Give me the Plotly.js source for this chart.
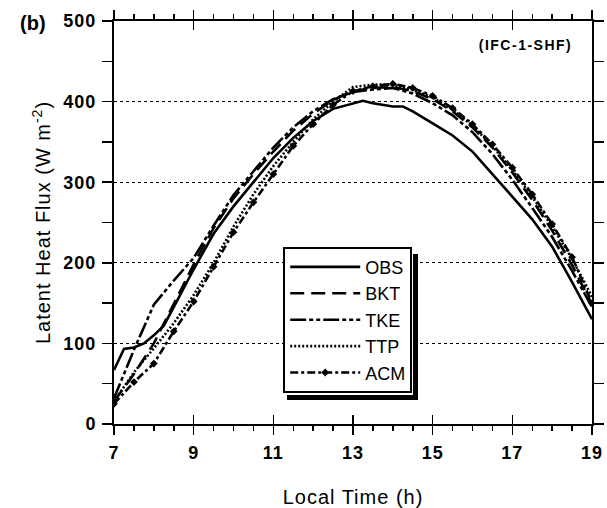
<!DOCTYPE html>
<html>
<head>
<meta charset="utf-8">
<script src="https://cdn.plot.ly/plotly-3.0.1.min.js"></script>
<style>body{margin:0;background:#fff;} #chart{width:607px;height:508px;}</style>
</head>
<body>
<div id="chart"></div>
<script>
// Local time (h)
const obsTime = [7, 7.25, 7.5, 7.75, 8, 8.25, 8.5, 9, 9.5, 10, 10.5, 11, 11.5, 12, 12.5, 13, 13.25, 13.5, 14, 14.25, 14.5, 15, 15.5, 16, 16.5, 17, 17.5, 18, 18.5, 19];
const obs =     [67, 93, 95, 100, 110, 122, 145, 192, 236, 270, 300, 330, 355, 376, 391, 398, 401, 398, 394, 394, 388, 373, 358, 338, 310, 282, 254, 220, 176, 130];

const modelTime = [7, 7.5, 8, 8.5, 9, 9.5, 10, 10.5, 11, 11.5, 12, 12.5, 13, 13.5, 14, 14.5, 15, 15.5, 16, 16.5, 17, 17.5, 18, 18.5, 19];
const bkt = [28, 62, 100, 150, 198, 243, 280, 310, 338, 364, 385, 402, 413, 417, 418, 413, 403, 388, 368, 343, 312, 278, 240, 197, 148];
const tke = [32, 92, 148, 178, 206, 246, 284, 314, 343, 368, 388, 403, 412, 415, 417, 410, 398, 383, 362, 335, 303, 268, 232, 190, 145];
const ttp = [28, 64, 94, 125, 160, 200, 245, 285, 320, 350, 378, 400, 418, 421, 421, 415, 405, 390, 370, 345, 315, 282, 245, 205, 158];
const acm = [25, 52, 75, 115, 152, 195, 238, 275, 310, 345, 372, 396, 413, 419, 422, 417, 407, 392, 372, 347, 318, 285, 248, 207, 150];

const seriesNames = ['OBS', 'BKT', 'TKE', 'TTP', 'ACM'];
const xTicks = [7, 9, 11, 13, 15, 17, 19];
const yTicks = [0, 100, 200, 300, 400, 500];

const W = 2.6;
const traces = [
  {x: obsTime, y: obs, name: seriesNames[0], mode: 'lines', line: {color: '#000', width: W, dash: 'solid'}},
  {x: modelTime, y: bkt, name: seriesNames[1], mode: 'lines', line: {color: '#000', width: W, dash: '14px,7px'}},
  {x: modelTime, y: tke, name: seriesNames[2], mode: 'lines', line: {color: '#000', width: W, dash: '16px,3px,4px,3px,4px,3px'}},
  {x: modelTime, y: ttp, name: seriesNames[3], mode: 'lines', line: {color: '#000', width: W, dash: '2px,2px'}},
  {x: modelTime, y: acm, name: seriesNames[4], mode: 'lines+markers', line: {color: '#000', width: W, dash: '8px,3px,3px,3px'},
   marker: {symbol: 'diamond', size: 6, color: '#000'}}
];
// helper invisible trace for crossing major ticks on x
traces.push({x: [7, 19], y: [0, 0], xaxis: 'x2', yaxis: 'y', mode: 'lines', line: {width: 0}, showlegend: false, hoverinfo: 'skip'});

const tickFont = {family: 'Liberation Sans, Arial, sans-serif', size: 18, color: '#000', weight: 'bold'};

const layout = {
  width: 607, height: 508,
  margin: {l: 114, r: 15, t: 21, b: 84},
  paper_bgcolor: '#fff', plot_bgcolor: '#fff',
  font: {family: 'Liberation Sans, Arial, sans-serif', color: '#000'},
  showlegend: true,
  xaxis: {
    range: [7, 19], tickvals: xTicks, ticktext: xTicks.map(String),
    ticks: 'outside', ticklen: 9, tickwidth: 1.5, tickcolor: '#000',
    mirror: 'allticks', showline: true, linecolor: '#000', linewidth: 2,
    showgrid: false, zeroline: false, ticklabelstandoff: 2,
    tickfont: tickFont,
    minor: {dtick: 0.5, ticks: 'outside', ticklen: 5, tickwidth: 1.5, tickcolor: '#000', showgrid: false},
    title: {text: 'Local Time (h)', font: {size: 20, color: '#000'}, standoff: 28}
  },
  xaxis2: {
    overlaying: 'x', matches: 'x', range: [7, 19], tickvals: xTicks, showticklabels: false,
    ticks: 'inside', ticklen: 9, tickwidth: 1.5, tickcolor: '#000', mirror: 'allticks',
    showline: false, showgrid: false, zeroline: false
  },
  yaxis: {
    range: [0, 500], tickvals: yTicks, ticktext: yTicks.map(String),
    ticks: 'outside', ticklen: 10, tickwidth: 1.5, tickcolor: '#000',
    mirror: 'allticks', showline: true, linecolor: '#000', linewidth: 2,
    showgrid: true, gridcolor: '#000', gridwidth: 1, griddash: '3px,3px', zeroline: false,
    tickfont: tickFont, ticklabelstandoff: 2,
    minor: {dtick: 50, ticks: 'outside', ticklen: 6, tickwidth: 1.5, tickcolor: '#000', showgrid: false},
    title: {text: 'Latent Heat Flux (W m<sup>-2</sup>)', font: {size: 20, color: '#000'}, standoff: 10}
  },
  legend: {
    x: 0.354, y: 0.44, xanchor: 'left', yanchor: 'top',
    bgcolor: '#fff', bordercolor: '#000', borderwidth: 2,
    font: {size: 18, color: '#000'}, itemwidth: 70, tracegroupgap: 0
  },
  shapes: [
    // legend drop shadow: right strip and bottom strip
    {type: 'rect', xref: 'paper', yref: 'paper', x0: 0.6255, x1: 0.6360, y0: 0.0596, y1: 0.4218,
     fillcolor: '#000', line: {width: 0}, layer: 'above'},
    {type: 'rect', xref: 'paper', yref: 'paper', x0: 0.3619, x1: 0.6360, y0: 0.0596, y1: 0.0720,
     fillcolor: '#000', line: {width: 0}, layer: 'above'}
  ],
  annotations: [
    {text: '(b)', xref: 'paper', yref: 'paper', x: -0.2, y: 0.995, xanchor: 'left', yanchor: 'middle', showarrow: false,
     font: {size: 20, color: '#000', weight: 'bold'}},
    {text: '(IFC-1-SHF)', xref: 'paper', yref: 'paper', x: 0.945, y: 0.94, xanchor: 'right', yanchor: 'middle', showarrow: false,
     font: {size: 14, color: '#000', weight: 'bold'}}
  ]
};

const gd = document.getElementById('chart');
Plotly.newPlot(gd, traces, layout, {displayModeBar: false, staticPlot: true}).then(function () {
  document.querySelectorAll('.xtitle, .ytitle').forEach(function (t) { t.style.letterSpacing = '1px'; });
  document.querySelectorAll('.ytick text, .xtick text').forEach(function (t) { t.style.letterSpacing = '1px'; });
  document.querySelectorAll('.annotation-text').forEach(function (t) {
    if (t.textContent.indexOf('IFC') >= 0) t.style.letterSpacing = '1.5px';
  });
});
</script>
</body>
</html>
